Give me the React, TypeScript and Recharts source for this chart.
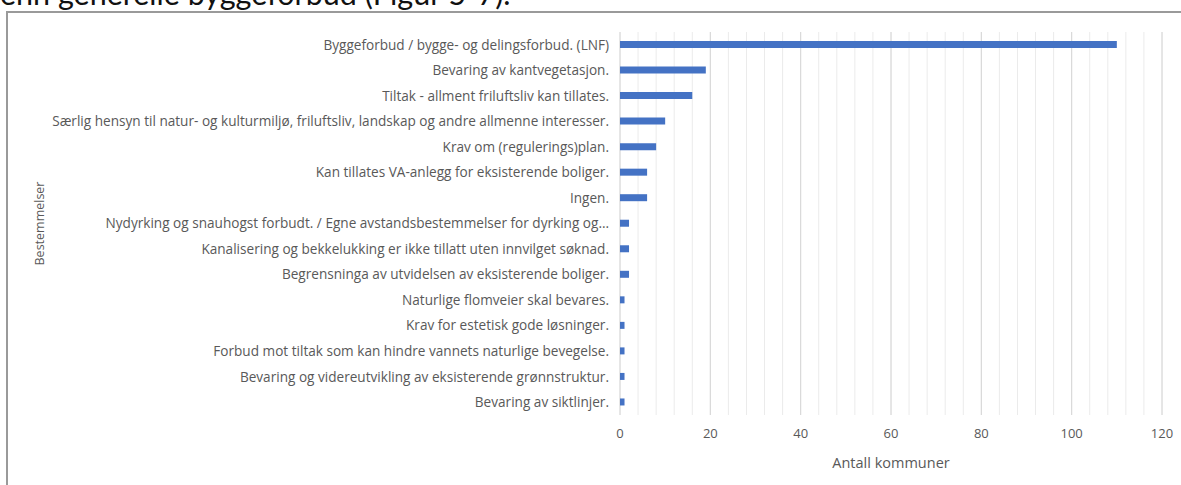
import React from 'react';
import { BarChart, Bar, XAxis, YAxis, CartesianGrid } from 'recharts';

const categories = [
  'Byggeforbud / bygge- og delingsforbud. (LNF)',
  'Bevaring av kantvegetasjon.',
  'Tiltak - allment friluftsliv kan tillates.',
  'Særlig hensyn til natur- og kulturmiljø, friluftsliv, landskap og andre allmenne interesser.',
  'Krav om (regulerings)plan.',
  'Kan tillates VA-anlegg for eksisterende boliger.',
  'Ingen.',
  'Nydyrking og snauhogst forbudt. / Egne avstandsbestemmelser for dyrking og…',
  'Kanalisering og bekkelukking er ikke tillatt uten innvilget søknad.',
  'Begrensninga av utvidelsen av eksisterende boliger.',
  'Naturlige flomveier skal bevares.',
  'Krav for estetisk gode løsninger.',
  'Forbud mot tiltak som kan hindre vannets naturlige bevegelse.',
  'Bevaring og videreutvikling av eksisterende grønnstruktur.',
  'Bevaring av siktlinjer.',
];

const counts = [110, 19, 16, 10, 8, 6, 6, 2, 2, 2, 1, 1, 1, 1, 1];

const minorTicks = [0, 4, 8, 12, 16, 20, 24, 28, 32, 36, 40, 44, 48, 52, 56, 60, 64, 68, 72, 76, 80, 84, 88, 92, 96, 100, 104, 108, 112, 116, 120];
const majorTicks = [0, 20, 40, 60, 80, 100, 120];
const xMax = 120;

const data = categories.map((name, i) => ({ name, value: counts[i] }));

const font = '"Open Sans", Lato, sans-serif';
const grey = '#595959';

// darker lines at the labelled ticks, placed with the axis scale
const majorLines = ({ xAxis, offset }: any) => {
  const s = xAxis?.scale;
  if (typeof s === 'function') return majorTicks.map((t) => s(t));
  return majorTicks.map((t) => offset.left + (t / xMax) * offset.width);
};

export default function App() {
  return (
    <div style={{ position: 'relative', width: 1181, height: 485, overflow: 'hidden', background: '#fff', fontFamily: font }}>
      <style>{'body{margin:0}'}</style>
      <div style={{ position: 'absolute', left: 0, top: -25, fontFamily: 'Lato, sans-serif', fontSize: 30.5, lineHeight: '36px', color: '#111', whiteSpace: 'nowrap' }}>
        enn generelle byggeforbud (Figur 5-7).
      </div>
      <div style={{ position: 'absolute', left: 6, top: 11, width: 1200, height: 500, borderLeft: '2px solid #9a9a9a', borderTop: '2px solid #9a9a9a', boxSizing: 'border-box' }} />
      <div style={{ position: 'absolute', left: 0, top: 0 }}>
        <BarChart layout="vertical" width={1181} height={485} data={data} margin={{ top: 32, right: 19, bottom: 0, left: 0 }}>
          <CartesianGrid horizontal={false} stroke="#ebebeb" />
          <CartesianGrid horizontal={false} stroke="#d6d6d6" verticalCoordinatesGenerator={majorLines} />
          <XAxis
            type="number"
            domain={[0, xMax]}
            ticks={minorTicks}
            interval={0}
            height={70}
            axisLine={false}
            tickLine={false}
            tickSize={0}
            tickMargin={14}
            tickFormatter={(v: number) => (v % 20 === 0 ? String(v) : '')}
            tick={{ fill: grey, fontSize: 13, fontFamily: font }}
            label={{
              content: ({ viewBox }: any) => (
                <text x={viewBox.x + viewBox.width / 2} y={468} textAnchor="middle" fill={grey} fontSize={14.5} fontFamily={font}>
                  Antall kommuner
                </text>
              ),
            }}
          />
          <YAxis
            type="category"
            dataKey="name"
            width={620}
            axisLine={false}
            tickLine={false}
            tickSize={0}
            tickMargin={11}
            interval={0}
            tick={{ fill: grey, fontSize: 13.6, fontFamily: font }}
            label={{
              content: ({ viewBox }: any) => {
                const cy = viewBox.y + viewBox.height / 2;
                return (
                  <text x={44} y={cy} transform={`rotate(-90 44 ${cy})`} textAnchor="middle" fill={grey} fontSize={12.5} fontFamily={font}>
                    Bestemmelser
                  </text>
                );
              },
            }}
          />
          <Bar dataKey="value" fill="#4472C4" barSize={7} isAnimationActive={false} />
        </BarChart>
      </div>
    </div>
  );
}
